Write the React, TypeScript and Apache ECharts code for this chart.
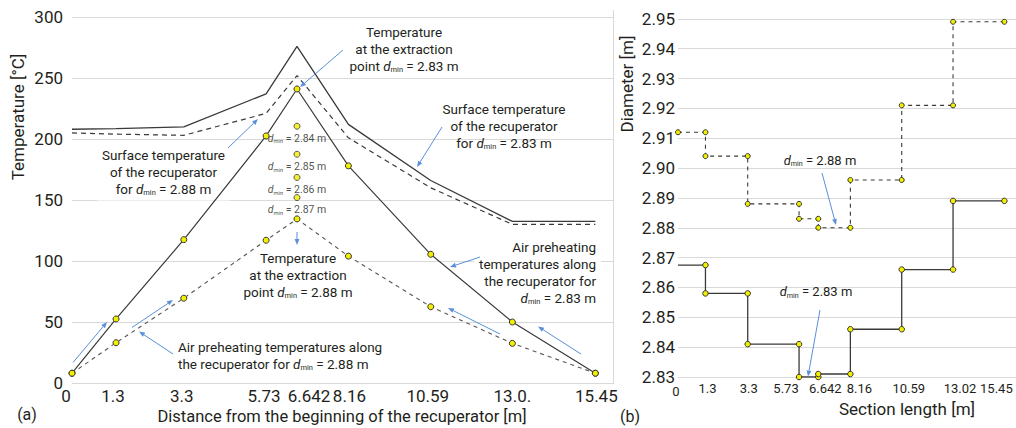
import React, { useEffect, useRef } from "react";
import * as echarts from "echarts";

// ---------- (a) temperatures along the recuperator ----------
const distanceM = [0, 1.3, 3.3, 5.73, 6.642, 8.16, 10.59, 13.0, 15.45];
const distanceLabels = ["0", "1.3", "3.3", "5.73", "6.642", "8.16", "10.59", "13.0.", "15.45"];
const surfaceTemp283 = [208, 208.5, 210, 237, 276, 212, 166, 132.5, 132.5];
const surfaceTemp288 = [205, 204, 203, 221, 252, 201, 160, 130, 130];
const airTemp283 = [8, 52.5, 117.5, 202.5, 241, 178, 105.5, 50, 8];
const airTemp288 = [8, 33, 69.5, 117, 134.5, 104, 62.5, 32.5, 8];
const extractionDmin = ["2.84", "2.85", "2.86", "2.87"];
const extractionTemp = [210.5, 187.5, 168.5, 152];

// ---------- (b) section diameters ----------
const sectionEdges = [0, 1.3, 3.3, 5.73, 6.642, 8.16, 10.59, 13.02, 15.45];
const sectionLabels = ["0", "1.3", "3.3", "5.73", "6.642", "8.16", "10.59", "13.02", "15.45"];
const diameter283 = [2.8675, 2.858, 2.841, 2.83, 2.831, 2.846, 2.866, 2.889];
const diameter288 = [2.912, 2.904, 2.888, 2.883, 2.88, 2.896, 2.921, 2.949];

// label nudges (px) so crowded tick labels do not collide, as in the original
const shiftA = [-6, -3, -2, -2, 12, 1, -3, 0, 1];
const shiftB = [-2, 2, 1, -13, 7, 9, 7, 7, -8];

const FONT = "Roboto";
const TXT = "#231f20";
const LINE = "#3a3a3a";
const GRID = "#d9d9d9";
const BLUE = "#5b8fd9";
const YELLOW = "#f3ef00";

function shiftedLabelAxis(values: number[], labels: string[], shifts: number[], dropFirst = 0) {
  const rich: Record<string, any> = {};
  shifts.forEach((s, i) => {
    const top = i === 0 ? dropFirst : 0;
    rich["s" + i] = { padding: s >= 0 ? [top, 0, 0, 2 * s] : [top, -2 * s, 0, 0] };
  });
  const formatter = (v: number) => {
    const i = values.findIndex((x) => Math.abs(x - v) < 1e-6);
    if (i < 0) return "";
    return `{s${i}|${labels[i]}}`;
  };
  return { formatter, rich };
}

function stepData(edges: number[], vals: number[], hideFirst: boolean) {
  const out: any[] = [];
  vals.forEach((v, i) => {
    const a: any = { value: [edges[i], v] };
    if (i === 0 && hideFirst) a.symbol = "none";
    out.push(a);
    out.push({ value: [edges[i + 1], v] });
  });
  return out;
}

function arrow(x1: number, y1: number, x2: number, y2: number) {
  const ang = Math.atan2(y2 - y1, x2 - x1);
  const L = 6;
  const W = 2.4;
  const bx = x2 - L * Math.cos(ang);
  const by = y2 - L * Math.sin(ang);
  const px = -Math.sin(ang) * W;
  const py = Math.cos(ang) * W;
  return [
    { type: "line", z: 5, shape: { x1, y1, x2: bx, y2: by }, style: { stroke: BLUE, lineWidth: 1 } },
    {
      type: "polygon",
      z: 5,
      shape: { points: [[x2, y2], [bx + px, by + py], [bx - px, by - py]] },
      style: { fill: BLUE },
    },
  ];
}

const annRich = (size: number) => ({
  d: { fontStyle: "italic", fontSize: size, fontFamily: FONT },
  s: { fontSize: size * 0.55, fontFamily: FONT, padding: [size * 0.55, 0, 0, 0] },
});

function note(
  text: string,
  x: number,
  y: number,
  align: string,
  box: boolean,
  size = 13.5,
  lh = 17
) {
  const style: any = {
    text,
    align,
    verticalAlign: "middle",
    fontSize: size,
    fontFamily: FONT,
    fill: TXT,
    lineHeight: lh,
    rich: annRich(size),
  };
  if (box) {
    style.backgroundColor = "#ffffff";
    style.padding = [2, 5, 3, 5];
  }
  return { type: "text", x, y, z: 1, style };
}

const DM = "{d|d}{s|min}";

export default function App() {
  const ref = useRef<HTMLDivElement>(null);

  useEffect(() => {
    if (!ref.current) return;
    const chart = echarts.init(ref.current, null, { renderer: "svg" });

    const axA = shiftedLabelAxis(distanceM, distanceLabels, shiftA);
    const axB = shiftedLabelAxis(sectionEdges, sectionLabels, shiftB, 3);

    const pairs = (ys: number[]) => distanceM.map((x, i) => [x, ys[i]]);

    const markerStyle = { color: YELLOW, borderColor: "#333", borderWidth: 1 };

    const option: any = {
      animation: false,
      backgroundColor: "#ffffff",
      textStyle: { fontFamily: FONT },
      grid: [
        { left: 72, top: 17, width: 542, height: 366 },
        { left: 678, top: 18.8, width: 338, height: 358.2 },
      ],
      xAxis: [
        {
          type: "value",
          gridIndex: 0,
          min: 0,
          max: 16,
          axisLine: { show: false },
          axisTick: { show: false },
          splitLine: { show: false },
          axisLabel: {
            customValues: distanceM,
            formatter: axA.formatter,
            rich: axA.rich,
            fontSize: 17,
            color: TXT,
            margin: 4,
            fontFamily: FONT,
          },
        },
        {
          type: "value",
          gridIndex: 1,
          min: 0,
          max: 16,
          axisLine: { show: false },
          axisTick: { show: false },
          splitLine: { show: false },
          axisLabel: {
            customValues: sectionEdges,
            formatter: axB.formatter,
            rich: axB.rich,
            fontSize: 13,
            color: TXT,
            margin: 5,
            fontFamily: FONT,
          },
        },
      ],
      yAxis: [
        {
          type: "value",
          gridIndex: 0,
          min: 0,
          max: 300,
          interval: 50,
          axisLine: { show: false },
          axisTick: { show: false },
          splitLine: { lineStyle: { color: GRID, width: 1 } },
          axisLabel: { fontSize: 17, color: TXT, margin: 9, fontFamily: FONT },
        },
        {
          type: "value",
          gridIndex: 1,
          min: 2.83,
          max: 2.95,
          interval: 0.01,
          axisLine: { show: false },
          axisTick: { show: false },
          splitLine: { lineStyle: { color: GRID, width: 1 } },
          axisLabel: {
            fontSize: 17,
            color: TXT,
            margin: 3,
            fontFamily: FONT,
            formatter: (v: number) => v.toFixed(2),
          },
        },
      ],
      series: [
        {
          name: "Surface 2.83",
          type: "line",
          xAxisIndex: 0,
          yAxisIndex: 0,
          data: pairs(surfaceTemp283),
          symbol: "none",
          lineStyle: { color: LINE, width: 1.3 },
        },
        {
          name: "Surface 2.88",
          type: "line",
          xAxisIndex: 0,
          yAxisIndex: 0,
          data: pairs(surfaceTemp288),
          symbol: "none",
          lineStyle: { color: LINE, width: 1.2, type: [5, 4] },
        },
        {
          name: "Air 2.83",
          type: "line",
          xAxisIndex: 0,
          yAxisIndex: 0,
          data: pairs(airTemp283),
          symbol: "circle",
          symbolSize: 6,
          itemStyle: markerStyle,
          lineStyle: { color: LINE, width: 1.2 },
        },
        {
          name: "Air 2.88",
          type: "line",
          xAxisIndex: 0,
          yAxisIndex: 0,
          data: pairs(airTemp288),
          symbol: "circle",
          symbolSize: 6,
          itemStyle: markerStyle,
          lineStyle: { color: "#555", width: 1.1, type: [4, 4] },
        },
        {
          name: "Extraction",
          type: "scatter",
          xAxisIndex: 0,
          yAxisIndex: 0,
          data: extractionTemp.map((t) => [distanceM[4], t]),
          symbol: "circle",
          symbolSize: 6,
          itemStyle: markerStyle,
          label: {
            show: true,
            position: "bottom",
            distance: 3,
            fontSize: 10.5,
            color: TXT,
            fontFamily: FONT,
            formatter: (p: any) => `${DM} = ${extractionDmin[p.dataIndex]} m`,
            rich: annRich(10.5),
          },
        },
        {
          name: "Diameter 2.83",
          type: "line",
          xAxisIndex: 1,
          yAxisIndex: 1,
          data: stepData(sectionEdges, diameter283, true),
          symbol: "circle",
          symbolSize: 5.5,
          itemStyle: markerStyle,
          lineStyle: { color: LINE, width: 1.3 },
        },
        {
          name: "Diameter 2.88",
          type: "line",
          xAxisIndex: 1,
          yAxisIndex: 1,
          data: stepData(sectionEdges, diameter288, false),
          symbol: "circle",
          symbolSize: 5,
          itemStyle: markerStyle,
          lineStyle: { color: LINE, width: 1.1, type: [4, 4] },
        },
      ],
      graphic: [
        // separator between the panels
        {
          type: "line",
          z: 0,
          shape: { x1: 613.5, y1: 10, x2: 613.5, y2: 383 },
          style: { stroke: GRID, lineWidth: 1 },
        },
        // axis titles and panel tags
        {
          type: "text",
          x: 18,
          y: 117,
          rotation: Math.PI / 2,
          style: { text: "Temperature [°C]", align: "center", verticalAlign: "middle", fontSize: 17, fontFamily: FONT, fill: TXT },
        },
        {
          type: "text",
          x: 342,
          y: 416,
          style: {
            text: "Distance from the beginning of the recuperator [m]",
            align: "center",
            verticalAlign: "middle",
            fontSize: 16.5,
            fontFamily: FONT,
            fill: TXT,
          },
        },
        {
          type: "text",
          x: 27,
          y: 414,
          style: { text: "(a)", align: "center", verticalAlign: "middle", fontSize: 16, fontFamily: FONT, fill: TXT },
        },
        {
          type: "text",
          x: 627,
          y: 84,
          rotation: Math.PI / 2,
          style: { text: "Diameter [m]", align: "center", verticalAlign: "middle", fontSize: 17, fontFamily: FONT, fill: TXT },
        },
        {
          type: "text",
          x: 907,
          y: 409,
          style: { text: "Section length [m]", align: "center", verticalAlign: "middle", fontSize: 17, fontFamily: FONT, fill: TXT },
        },
        {
          type: "text",
          x: 630,
          y: 416,
          style: { text: "(b)", align: "center", verticalAlign: "middle", fontSize: 16, fontFamily: FONT, fill: TXT },
        },
        // annotations (a)
        note(`Temperature\nat the extraction\npoint ${DM} = 2.83 m`, 404, 49, "center", true),
        note(`Surface temperature\nof the recuperator\nfor ${DM} = 2.88 m`, 163.5, 172.5, "center", true),
        note(`Surface temperature\nof the recuperator\nfor ${DM} = 2.83 m`, 504, 126, "center", false),
        note(`Temperature\nat the extraction\npoint ${DM} = 2.88 m`, 298, 275, "center", true),
        note(`Air preheating\ntemperatures along\nthe recuperator for\n${DM} = 2.83 m`, 601, 272.5, "right", true),
        note(`Air preheating temperatures along\nthe recuperator for ${DM} = 2.88 m`, 178, 355, "left", false),
        ...arrow(343, 50, 300, 87),
        ...arrow(228, 148, 258, 119),
        ...arrow(442, 127, 417, 167),
        ...arrow(297, 232, 297, 245),
        ...arrow(480, 257, 450, 267),
        ...arrow(173, 354, 139, 331.5),
        ...arrow(73, 362.5, 107, 322),
        ...arrow(132, 327.5, 173, 300),
        ...arrow(500, 334, 448, 308),
        ...arrow(581, 354, 538, 326.5),
        // annotations (b)
        note(`${DM} = 2.88 m`, 820, 160, "center", false, 13),
        note(`${DM} = 2.83 m`, 816, 291.5, "center", false, 13),
        ...arrow(822, 173, 836, 225),
        ...arrow(820, 310, 808, 376.5),
      ],
    };

    chart.setOption(option);
    return () => chart.dispose();
  }, []);

  return (
    <div
      ref={ref}
      style={{ position: "absolute", left: 0, top: 0, width: 1016, height: 428 }}
    />
  );
}
